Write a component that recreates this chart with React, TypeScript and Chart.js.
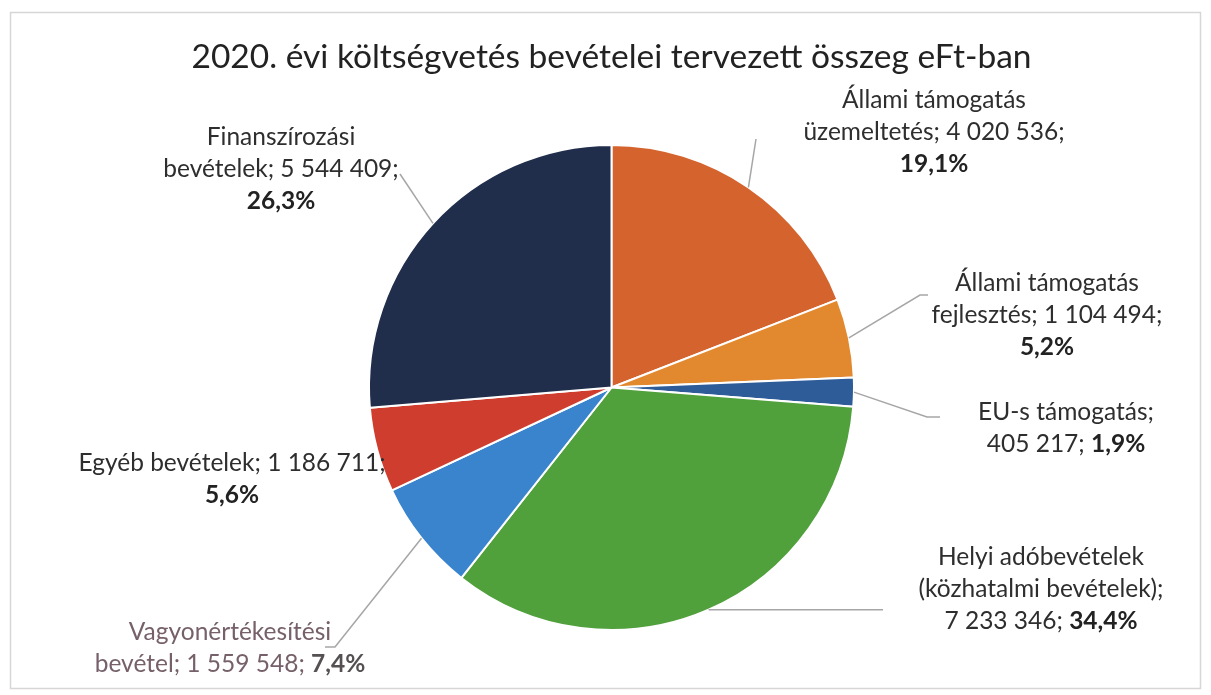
import React, { useEffect, useRef } from "react";
import { Chart, registerables } from "chart.js";

Chart.register(...registerables);

const TITLE = "2020. évi költségvetés bevételei tervezett összeg eFt-ban";

const categories = [
  "Állami támogatás üzemeltetés",
  "Állami támogatás fejlesztés",
  "EU-s támogatás",
  "Helyi adóbevételek (közhatalmi bevételek)",
  "Vagyonértékesítési bevétel",
  "Egyéb bevételek",
  "Finanszírozási bevételek",
];

const values = [4020536, 1104494, 405217, 7233346, 1559548, 1186711, 5544409];

const colors = ["#D4632E", "#E2892F", "#2E5C98", "#50A03C", "#3A84CE", "#CF3D2E", "#202D4B"];

// label text templates: {v} value, {p} percent, **bold**
const labelTemplates = [
  "Állami támogatás\nüzemeltetés; {v};\n**{p}**",
  "Állami támogatás\nfejlesztés; {v};\n**{p}**",
  "EU-s támogatás;\n{v}; **{p}**",
  "Helyi adóbevételek\n(közhatalmi bevételek);\n{v}; **{p}**",
  "Vagyonértékesítési\nbevétel; {v}; **{p}**",
  "Egyéb bevételek; {v};\n**{p}**",
  "Finanszírozási\nbevételek; {v};\n**{p}**",
];

// label layout: centre x, first line middle y
const labelPos = [
  [934, 100],
  [1047, 283],
  [1066, 412],
  [1041, 557],
  [230, 632],
  [232, 463],
  [281, 137],
];

const labelColors = ["#2E2E2E", "#2E2E2E", "#2E2E2E", "#2E2E2E", "#76606A", "#2E2E2E", "#2E2E2E"];
const labelBoldColors = ["#222222", "#222222", "#222222", "#222222", "#555052", "#222222", "#222222"];

// leader line: elbow point [x, y] (y null = same as start), then optional horizontal end x
const leaders: (null | [number, number | null, number | null])[] = [
  [756, 139, null],
  [920, 295, 928],
  [927, 417, 940],
  [883, null, null],
  [335, 647, 325],
  null,
  [400, 174, null],
];

const FONT = "Lato, 'Open Sans', sans-serif";
const LABEL_SIZE = 24.5;
const LINE_H = 32;

function fmtValue(v: number): string {
  return String(v).replace(/\B(?=(\d{3})+(?!\d))/g, " ");
}

function fmtPct(v: number, total: number): string {
  return (v / total * 100).toFixed(1).replace(".", ",") + "%";
}

const labelPlugin = {
  id: "sliceLabels",
  beforeDraw(chart: any) {
    const ctx = chart.ctx;
    ctx.save();
    ctx.fillStyle = "#ffffff";
    ctx.fillRect(0, 0, chart.width, chart.height);
    ctx.strokeStyle = "#D6D6D6";
    ctx.lineWidth = 1.5;
    ctx.strokeRect(10.5, 12.5, 1190, 676);
    ctx.restore();
  },
  afterDatasetsDraw(chart: any) {
    const ctx = chart.ctx;
    const meta = chart.getDatasetMeta(0);
    const data = chart.data.datasets[0].data as number[];
    const total = data.reduce((a, b) => a + b, 0);
    ctx.save();
    meta.data.forEach((arc: any, i: number) => {
      const mid = (arc.startAngle + arc.endAngle) / 2;
      const sx = arc.x + Math.cos(mid) * arc.outerRadius;
      const sy = arc.y + Math.sin(mid) * arc.outerRadius;
      const ld = leaders[i];
      if (ld) {
        ctx.beginPath();
        ctx.strokeStyle = "#A6A6A6";
        ctx.lineWidth = 1.5;
        ctx.moveTo(sx, sy);
        const ey = ld[1] === null ? sy : ld[1];
        ctx.lineTo(ld[0], ey);
        if (ld[2] !== null) ctx.lineTo(ld[2], ey);
        ctx.stroke();
      }
      const text = labelTemplates[i]
        .replace("{v}", fmtValue(data[i]))
        .replace("{p}", fmtPct(data[i], total));
      const lines = text.split("\n");
      const [cx, cy] = labelPos[i];
      ctx.textBaseline = "middle";
      ctx.textAlign = "left";
      lines.forEach((line, li) => {
        const parts = line.split("**");
        const segs = parts.map((t, k) => ({ t, b: k % 2 === 1 })).filter((s) => s.t.length > 0);
        let w = 0;
        segs.forEach((s) => {
          ctx.font = `${s.b ? "bold " : ""}${LABEL_SIZE}px ${FONT}`;
          w += ctx.measureText(s.t).width;
        });
        let x = cx - w / 2;
        const y = cy + li * LINE_H;
        segs.forEach((s) => {
          ctx.font = `${s.b ? "bold " : ""}${LABEL_SIZE}px ${FONT}`;
          ctx.fillStyle = s.b ? labelBoldColors[i] : labelColors[i];
          ctx.fillText(s.t, x, y);
          x += ctx.measureText(s.t).width;
        });
      });
    });
    ctx.restore();
  },
};

export default function App() {
  const ref = useRef<HTMLCanvasElement | null>(null);
  useEffect(() => {
    if (!ref.current) return;
    const chart = new Chart(ref.current, {
      type: "pie",
      data: {
        labels: categories,
        datasets: [
          {
            data: values,
            backgroundColor: colors,
            borderColor: "#ffffff",
            borderWidth: 2,
          },
        ],
      },
      options: {
        animation: false,
        responsive: true,
        maintainAspectRatio: false,
        layout: { padding: { top: 0, bottom: 64, left: 12, right: 0 } },
        plugins: {
          legend: { display: false },
          tooltip: { enabled: false },
          title: {
            display: true,
            text: TITLE,
            color: "#222222",
            font: { family: FONT, size: 33.5, weight: "normal", lineHeight: 1.2 },
            padding: { top: 37, bottom: 144 - 37 - 33.5 * 1.2 },
          },
        },
      },
      plugins: [labelPlugin],
    });
    return () => chart.destroy();
  }, []);
  return (
    <div style={{ position: "absolute", left: 0, top: 0, width: 1211, height: 695, background: "#fff" }}>
      <canvas ref={ref} />
    </div>
  );
}
